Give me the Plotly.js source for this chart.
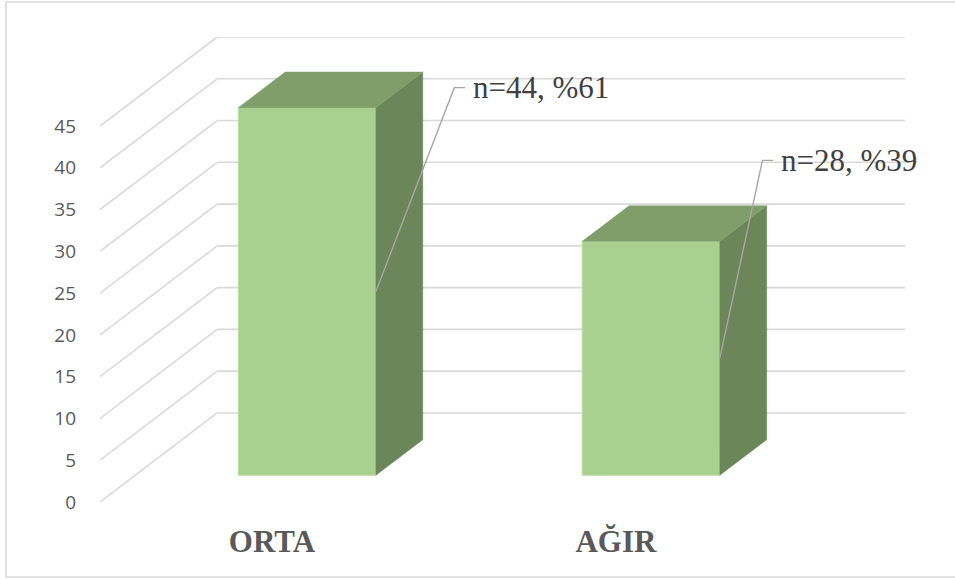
<!DOCTYPE html>
<html>
<head>
<meta charset="utf-8">
<script src="https://cdn.plot.ly/plotly-3.0.1.min.js"></script>
<style>
  html, body { margin: 0; padding: 0; background: #ffffff; }
  #chart { width: 955px; height: 579px; }
</style>
</head>
<body>
<div id="chart"></div>
<script>
// Severity groups and patient counts
const categories = ['ORTA', 'AĞIR'];
const counts = [44, 28];
const labels = ['n=44, %61', 'n=28, %39'];
const yTicks = [0, 5, 10, 15, 20, 25, 30, 35, 40, 45];

// Oblique projection: full floor depth expressed in axis units
const DX = 0.3407;          // horizontal shift (category units) from front to back wall
const DY = 10.66;           // vertical shift (value units) from front to back wall
const D_FRONT = 0.30;       // depth fraction of the column front face
const D_BACK = 0.70;        // depth fraction of the column back face
const BAR_W = 0.4;          // column width in category units
const X_MIN = -0.5, X_MAX = 1.5;
const Y_TOP = 45;

// Leader elbow offsets (axis units) relative to each column's mid-edge, and tail length
const leaderOffsets = [{dx: 0.228, dy: 24.4}, {dx: 0.124, dy: 23.7}];
const TAIL = 0.031;

const COL_FRONT = '#a9d08e';
const COL_TOP = '#7f9e69';
const COL_SIDE = '#6b8759';
const GRID = '#d9d9d9';

// Plot area in pixels (used for the outer frame)
const M = {l: 100, r: 50, t: 37, b: 77};
const W = 955, H = 579;

// Wall grid: back-wall horizontals plus diagonals on the side wall
const shapes = [];
yTicks.forEach(v => {
  shapes.push({type: 'line', layer: 'below', xref: 'x', yref: 'y',
    x0: X_MIN + DX, y0: v + DY, x1: X_MAX + DX, y1: v + DY,
    line: {color: GRID, width: 1.6}});
  shapes.push({type: 'line', layer: 'below', xref: 'x', yref: 'y',
    x0: X_MIN, y0: v, x1: X_MIN + DX, y1: v + DY,
    line: {color: GRID, width: 1.6}});
});

// Outer chart frame (paper coordinates relative to the plot area)
const pw = W - M.l - M.r, ph = H - M.t - M.b;
shapes.push({type: 'rect', xref: 'paper', yref: 'paper', layer: 'above',
  x0: (6 - M.l) / pw, x1: (962 - M.l) / pw,
  y0: (H - M.b - 577) / ph, y1: (H - M.b - 2) / ph,
  line: {color: GRID, width: 1.6}, fillcolor: 'rgba(0,0,0,0)'});

const traces = [];

// Column front faces
traces.push({
  type: 'bar',
  x: categories.map((c, i) => i + D_FRONT * DX),
  y: counts,
  base: counts.map(() => D_FRONT * DY),
  width: BAR_W,
  marker: {color: COL_FRONT, line: {color: '#bcdca6', width: 1}},
  hoverinfo: 'skip', showlegend: false
});

const ddx = (D_BACK - D_FRONT) * DX;
const ddy = (D_BACK - D_FRONT) * DY;

counts.forEach((v, i) => {
  const xl = i - BAR_W / 2 + D_FRONT * DX;
  const xr = i + BAR_W / 2 + D_FRONT * DX;
  const yb = D_FRONT * DY;
  const yt = v + D_FRONT * DY;
  // right side face
  traces.push({
    type: 'scatter', mode: 'lines', fill: 'toself', fillcolor: COL_SIDE,
    x: [xr, xr + ddx, xr + ddx, xr, xr],
    y: [yb, yb + ddy, yt + ddy, yt, yb],
    line: {color: COL_SIDE, width: 0.5},
    hoverinfo: 'skip', showlegend: false
  });
  // top face
  traces.push({
    type: 'scatter', mode: 'lines', fill: 'toself', fillcolor: COL_TOP,
    x: [xl, xr, xr + ddx, xl + ddx, xl],
    y: [yt, yt, yt + ddy, yt + ddy, yt],
    line: {color: COL_TOP, width: 0.5},
    hoverinfo: 'skip', showlegend: false
  });
});

// Leader lines from the middle of each column's front-right edge to its label
const annotations = [];
counts.forEach((v, i) => {
  const ax = i + BAR_W / 2 + D_FRONT * DX;
  const ay = v / 2 + D_FRONT * DY;
  const ex = ax + leaderOffsets[i].dx;
  const ey = ay + leaderOffsets[i].dy;
  traces.push({
    type: 'scatter', mode: 'lines',
    x: [ax, ex, ex + TAIL], y: [ay, ey, ey],
    line: {color: '#a6a6a6', width: 1.4},
    hoverinfo: 'skip', showlegend: false
  });
  annotations.push({
    xref: 'x', yref: 'y', x: ex + TAIL, y: ey,
    xanchor: 'left', yanchor: 'middle', xshift: 6,
    text: labels[i], showarrow: false,
    font: {family: 'Liberation Serif, Times New Roman, serif', size: 31, color: '#404040'}
  });
});

const layout = {
  width: W, height: H,
  margin: M,
  paper_bgcolor: '#ffffff', plot_bgcolor: 'rgba(0,0,0,0)',
  showlegend: false,
  barmode: 'overlay',
  xaxis: {
    range: [X_MIN, X_MAX + DX],
    tickmode: 'array', tickvals: categories.map((c, i) => i), ticktext: categories,
    showgrid: false, zeroline: false, showline: false, ticks: '',
    ticklabelstandoff: 18,
    tickfont: {family: 'Liberation Serif, Times New Roman, serif', size: 31, color: '#595959', weight: 'bold'},
    fixedrange: true
  },
  yaxis: {
    range: [0, Y_TOP + DY],
    tickmode: 'array', tickvals: yTicks,
    showgrid: false, zeroline: false, showline: false, ticks: '',
    ticklabelstandoff: 23,
    tickfont: {family: 'Open Sans, Liberation Sans, sans-serif', size: 19, color: '#595959'},
    fixedrange: true
  },
  shapes: shapes,
  annotations: annotations
};

Plotly.newPlot('chart', traces, layout, {displayModeBar: false, staticPlot: true});
</script>
</body>
</html>
